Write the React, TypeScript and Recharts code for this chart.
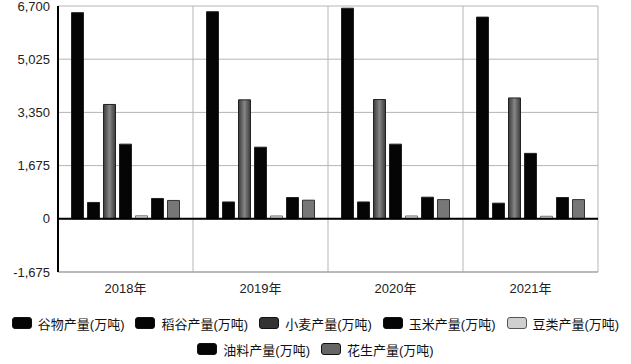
import { Bar, BarChart, CartesianGrid, Legend, ReferenceLine, XAxis, YAxis } from "recharts";

const years = ["2018年", "2019年", "2020年", "2021年"];
const grain = [6490, 6520, 6630, 6350];
const rice = [515, 530, 530, 492];
const wheat = [3600, 3745, 3755, 3805];
const corn = [2350, 2255, 2350, 2060];
const beans = [95, 90, 90, 80];
const oil = [640, 670, 680, 670];
const peanut = [578, 586, 605, 605];
const yTicks = [-1675, 0, 1675, 3350, 5025, 6700];

const data = years.map((year, i) => ({
  year,
  grain: grain[i],
  rice: rice[i],
  wheat: wheat[i],
  corn: corn[i],
  beans: beans[i],
  oil: oil[i],
  peanut: peanut[i],
}));

const series = [
  { key: "grain", name: "谷物产量(万吨)", fill: "#050505", stroke: "#222", icon: "#050505" },
  { key: "rice", name: "稻谷产量(万吨)", fill: "#050505", stroke: "#222", icon: "#050505" },
  { key: "wheat", name: "小麦产量(万吨)", fill: "url(#wheatGrad)", stroke: "#222", icon: "#333" },
  { key: "corn", name: "玉米产量(万吨)", fill: "#050505", stroke: "#222", icon: "#050505" },
  { key: "beans", name: "豆类产量(万吨)", fill: "#d6d6d6", stroke: "#777", icon: "#cfcfcf" },
  { key: "oil", name: "油料产量(万吨)", fill: "#050505", stroke: "#222", icon: "#050505" },
  { key: "peanut", name: "花生产量(万吨)", fill: "#777", stroke: "#333", icon: "#666" },
];

const FONT = "'Liberation Sans', Arial, 'Noto Sans CJK SC', sans-serif";

function LegendRow({ items }: { items: typeof series }) {
  return (
    <div style={{ display: "flex", justifyContent: "center", height: 26, alignItems: "center", gap: 11 }}>
      {items.map((s) => (
        <div key={s.key} style={{ display: "flex", alignItems: "center" }}>
          <span
            style={{
              width: 18,
              height: 10,
              borderRadius: 3,
              background: s.icon,
              border: `1px solid ${s.key === "beans" ? "#555" : "#111"}`,
              marginRight: 6,
              display: "inline-block",
            }}
          />
          <span style={{ fontSize: 13, color: "#111", fontFamily: FONT, whiteSpace: "nowrap" }}>{s.name}</span>
        </div>
      ))}
    </div>
  );
}

function ChartLegend() {
  return (
    <div style={{ paddingTop: 8, width: 631 }}>
      <LegendRow items={series.slice(0, 5)} />
      <LegendRow items={series.slice(5)} />
    </div>
  );
}

export default function App() {
  return (
    <div style={{ position: "absolute", left: 0, top: 0, width: 631, height: 364, background: "#fff" }}>
      <BarChart
        width={631}
        height={364}
        data={data}
        margin={{ top: 6, right: 33, left: 0, bottom: 0 }}
        barCategoryGap="10%"
        barGap={4}
        style={{ fontFamily: FONT }}
      >
        <defs>
          <linearGradient id="wheatGrad" x1="0" y1="0" x2="1" y2="0">
            <stop offset="0%" stopColor="#3a3a3a" />
            <stop offset="50%" stopColor="#858585" />
            <stop offset="100%" stopColor="#3a3a3a" />
          </linearGradient>
        </defs>
        <CartesianGrid
          stroke="#b5b5b5"
          verticalCoordinatesGenerator={(props: any) => {
            const o = props.offset;
            return [1, 2, 3, 4].map((i) => o.left + (o.width * i) / 4);
          }}
        />
        <XAxis
          dataKey="year"
          height={30}
          axisLine={{ stroke: "#999" }}
          tickLine={false}
          tickMargin={6}
          tick={{ fill: "#222", fontSize: 13 }}
        />
        <YAxis
          width={58}
          domain={[-1675, 6700]}
          ticks={yTicks}
          interval={0}
          axisLine={{ stroke: "#000", strokeWidth: 2 }}
          tickLine={false}
          tick={{ fill: "#222", fontSize: 13 }}
          tickFormatter={(v: number) => v.toLocaleString("en-US")}
        />
        <Legend
          verticalAlign="bottom"
          height={62}
          wrapperStyle={{ left: 0, width: 631 }}
          content={() => <ChartLegend />}
        />
        {series.map((s) => (
          <Bar
            key={s.key}
            dataKey={s.key}
            name={s.name}
            fill={s.fill}
            stroke={s.stroke}
            strokeWidth={1}
            isAnimationActive={false}
          />
        ))}
        <ReferenceLine y={0} stroke="#000" strokeWidth={2} />
      </BarChart>
    </div>
  );
}
